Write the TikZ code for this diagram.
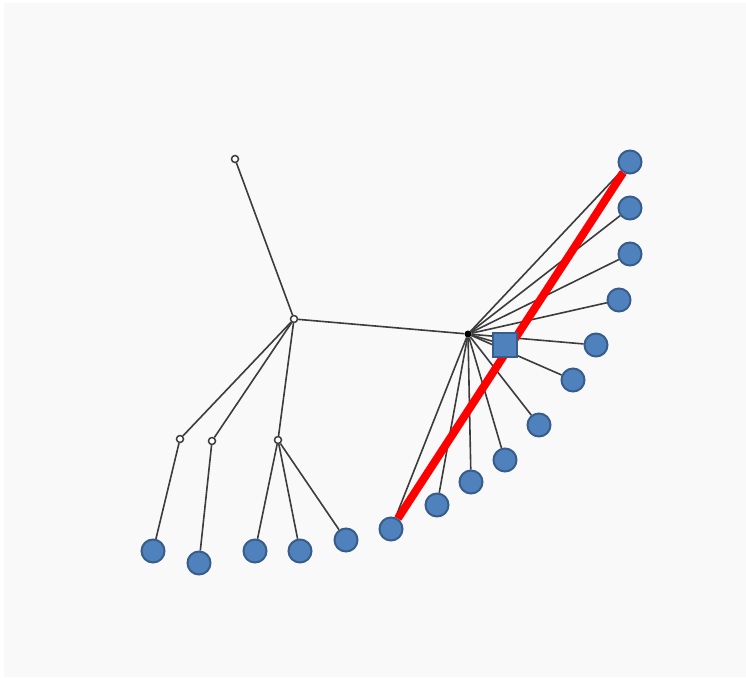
\documentclass[tikz,border=0pt]{standalone}
\usepackage{xcolor}
\usetikzlibrary{shapes, arrows, positioning, calc}

\definecolor{leafblue}{HTML}{4F81BD}
\definecolor{leafedge}{HTML}{385D8A}
\definecolor{linegray}{HTML}{3C3C3C}
\definecolor{bggray}{HTML}{F9F9F9}

\pgfdeclarelayer{canvas}
\pgfdeclarelayer{back}
\pgfsetlayers{canvas,back,main}

\begin{document}
\begin{tikzpicture}[
    x=1pt, y=-1pt,
    leaf/.style={circle, draw=leafedge, fill=leafblue, line width=2pt, minimum size=23pt, inner sep=0pt},
    hub/.style={circle, draw=linegray, fill=white, line width=1.5pt, minimum size=7pt, inner sep=0pt},
    core/.style={circle, fill=black, minimum size=7pt, inner sep=0pt},
    sq/.style={rectangle, draw=leafedge, fill=leafblue, line width=2pt, minimum size=24pt, inner sep=0pt},
    edge/.style={draw=linegray, line width=1.6pt},
    path/.style={draw=red, line width=8pt}
]
% Background
\begin{pgfonlayer}{canvas}
\fill[white] (0,0) rectangle (746,677);
\fill[bggray] (4,3) rectangle (746,677);
\end{pgfonlayer}
\useasboundingbox (0,0) rectangle (746,677);

% Inner nodes
\node (top) [hub] at (235,159) {};
\node (mid) [hub] at (294,319) {};
\node (ctr) [core] at (468,334) {};
\node (h1) [hub] at (180,439) {};
\node (h2) [hub] at (212,441) {};
\node (h3) [hub] at (278,440) {};

% Left leaves
\node (l1) [leaf] at (153,551) {};
\node (l2) [leaf] at (199,563) {};
\node (l3) [leaf] at (255,551) {};
\node (l4) [leaf] at (300,551) {};
\node (l5) [leaf] at (346,540) {};

% Right leaves
\node (r1) [leaf] at (391,529) {};
\node (r2) [leaf] at (437,505) {};
\node (r3) [leaf] at (471,482) {};
\node (r4) [leaf] at (505,460) {};
\node (r5) [leaf] at (539,425) {};
\node (r6) [leaf] at (573,380) {};
\node (r7) [leaf] at (596,345) {};
\node (r8) [leaf] at (619,300) {};
\node (r9) [leaf] at (630,254) {};
\node (r10) [leaf] at (630,208) {};
\node (r11) [leaf] at (630,162) {};
\node (box) [sq] at (505,345) {};

% Edges
\begin{pgfonlayer}{back}
\draw [edge] (top) -- (mid);
\draw [edge] (mid) -- (ctr);
\draw [edge] (mid) -- (h1);
\draw [edge] (mid) -- (h2);
\draw [edge] (mid) -- (h3);
\draw [edge] (h1) -- (l1);
\draw [edge] (h2) -- (l2);
\draw [edge] (h3) -- (l3);
\draw [edge] (h3) -- (l4);
\draw [edge] (h3) -- (l5);
\draw [edge] (ctr) -- (r1);
\draw [edge] (ctr) -- (r2);
\draw [edge] (ctr) -- (r3);
\draw [edge] (ctr) -- (r4);
\draw [edge] (ctr) -- (r5);
\draw [edge] (ctr) -- (r6);
\draw [edge] (ctr) -- (r7);
\draw [edge] (ctr) -- (r8);
\draw [edge] (ctr) -- (r9);
\draw [edge] (ctr) -- (r10);
\draw [edge] (ctr) -- (r11);
\draw [edge] (ctr) -- (box);

% Highlighted path
\draw [path] (r1) -- (r11);
\end{pgfonlayer}

\end{tikzpicture}
\end{document}
